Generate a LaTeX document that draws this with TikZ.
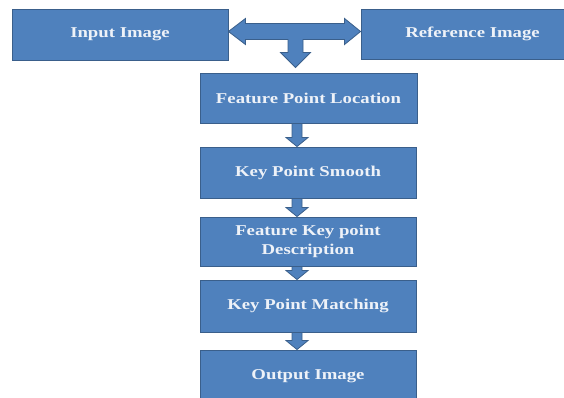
\documentclass[tikz,border=0pt]{standalone}
\usepackage{fontspec}
\setmainfont{Liberation Serif}
\usetikzlibrary{calc}
\definecolor{boxfill}{HTML}{4F81BD}
\definecolor{boxline}{HTML}{3A5F8B}
\definecolor{boxtext}{HTML}{EEF2F8}
\newcommand\wt[1]{\scalebox{1.25}[1]{#1}}
\tikzset{
  blk/.style={draw=boxline, line width=0.9pt, fill=boxfill, rectangle,
    minimum width=216pt, inner sep=0pt, align=center,
    font=\fontsize{15}{19}\selectfont\bfseries, text=boxtext},
  barrow/.style={draw=boxline, line width=0.8pt, fill=boxfill, line join=miter}
}
\newcommand\blockdown[2]{%
  \path[barrow] let \p1=(ax |- #1.south), \p2=(ax |- #2.north) in
    ({\x1-5pt},\y1) -- ({\x1+5pt},\y1) -- ({\x1+5pt},{\y2+9pt}) --
    ({\x1+11pt},{\y2+9pt}) -- (\x1,\y2) -- ({\x1-11pt},{\y2+9pt}) --
    ({\x1-5pt},{\y2+9pt}) -- cycle;}
\begin{document}
\begin{tikzpicture}[x=1pt,y=-1pt]
\useasboundingbox (0,0) rectangle (564,398);
\clip (0,0) rectangle (564,398);
\fill[white] (0,0) rectangle (564,398);
\node[blk, minimum height=51pt] (in) at (120,34.5) {\wt{Input Image}};
\node[blk, minimum width=223pt, minimum height=50pt] (ref) at (472.5,34) {\wt{Reference Image}};
\node[blk, minimum width=217pt, minimum height=50pt] (fpl) at (308.5,98) {\wt{Feature Point Location}};
\node[blk, minimum height=51pt] (kps) at (308,172.5) {\wt{Key Point Smooth}};
\node[blk, minimum height=49pt] (fkd) at (308,241.5) {\wt{Feature Key point}\\\wt{Description}};
\node[blk, minimum height=52pt] (kpm) at (308,306) {\wt{Key Point Matching}};
\node[blk, minimum height=52pt] (out) at (308,376) {\wt{Output Image}};
\coordinate (ax) at (297,0);
\coordinate (tx) at (295.5,0);
% T-shaped double arrow
\path[barrow] let \p1=([yshift=3pt]in.east), \p2=([yshift=3pt]ref.west), \p3=(tx |- fpl.north) in
  (\x1,\y1) -- ({\x1+17pt},{\y1+13pt}) -- ({\x1+17pt},{\y1+8pt}) --
  ({\x2-16pt},{\y1+8pt}) -- ({\x2-16pt},{\y1+13pt}) -- (\x2,\y1) --
  ({\x2-16pt},{\y1-13pt}) -- ({\x2-16pt},{\y1-8pt}) --
  ({\x3+7.5pt},{\y1-8pt}) -- ({\x3+7.5pt},{\y3+20pt}) -- ({\x3+15pt},{\y3+20pt}) --
  (\x3,{\y3+5pt}) -- ({\x3-15pt},{\y3+20pt}) -- ({\x3-7.5pt},{\y3+20pt}) --
  ({\x3-7.5pt},{\y1-8pt}) -- ({\x1+17pt},{\y1-8pt}) -- ({\x1+17pt},{\y1-13pt}) -- cycle;
\blockdown{fpl}{kps}
\blockdown{kps}{fkd}
\blockdown{fkd}{kpm}
\blockdown{kpm}{out}
\end{tikzpicture}
\end{document}
